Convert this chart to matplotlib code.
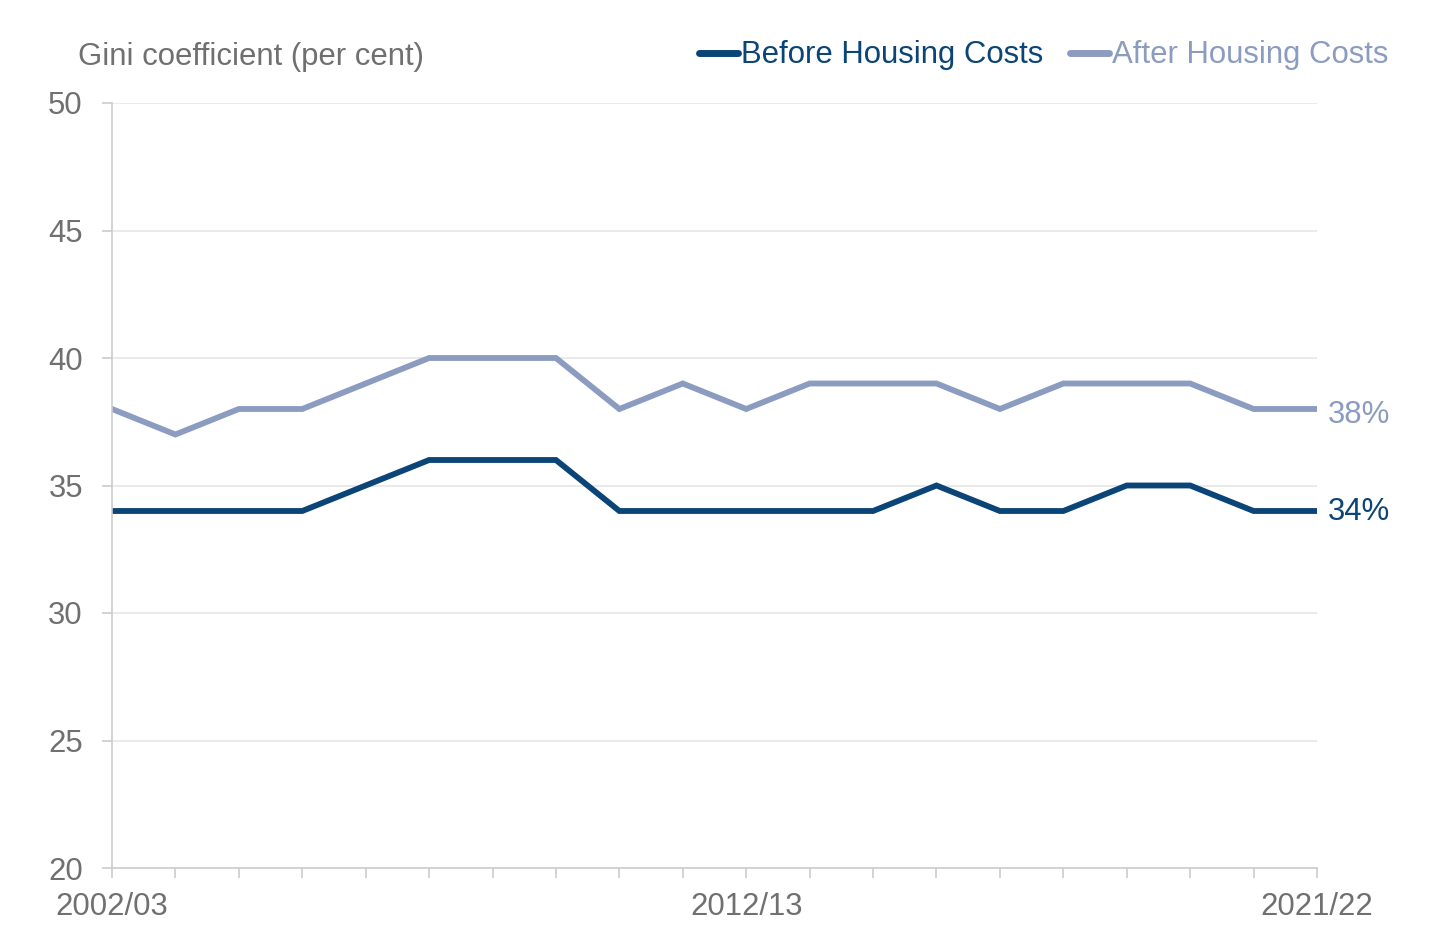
import matplotlib.pyplot as plt
import numpy as np

plt.rcParams["font.family"] = ["Liberation Sans", "DejaVu Sans"]

years = ["2002/03", "2003/04", "2004/05", "2005/06", "2006/07", "2007/08", "2008/09",
         "2009/10", "2010/11", "2011/12", "2012/13", "2013/14", "2014/15", "2015/16",
         "2016/17", "2017/18", "2018/19", "2019/20", "2020/21", "2021/22"]
bhc = [34, 34, 34, 34, 35, 36, 36, 36, 34, 34, 34, 34, 34, 35, 34, 34, 35, 35, 34, 34]
ahc = [38, 37, 38, 38, 39, 40, 40, 40, 38, 39, 38, 39, 39, 39, 38, 39, 39, 39, 38, 38]
shown_labels = ["2002/03", "2012/13", "2021/22"]

BHC_COL = "#0B4477"
AHC_COL = "#8C9CC0"
GREY = "#707070"
FS = 22.4

fig = plt.figure(figsize=(14.33, 9.51), dpi=100)
ax = fig.add_axes([112 / 1433, 1 - 868 / 951, (1317 - 112) / 1433, (868 - 103) / 951])

x = np.arange(len(years))
ax.plot(x, ahc, color=AHC_COL, lw=4.2, solid_joinstyle="miter", label="After Housing Costs")
ax.plot(x, bhc, color=BHC_COL, lw=4.2, solid_joinstyle="miter", label="Before Housing Costs")

ax.set_xlim(0, len(years) - 1)
ax.set_ylim(20, 50)
ax.set_yticks(range(20, 51, 5))
ax.set_xticks(x)
ax.set_xticklabels([y if y in shown_labels else "" for y in years])
ax.tick_params(axis="both", colors="#CCCCCC", labelcolor=GREY, labelsize=FS, length=7, width=1.2)
ax.tick_params(axis="x", pad=10)
ax.tick_params(axis="y", pad=14)
ax.grid(axis="y", color="#E6E6E6", lw=1.2)
ax.set_axisbelow(True)
for s in ["top", "right"]:
    ax.spines[s].set_visible(False)
for s in ["left", "bottom"]:
    ax.spines[s].set_color("#CCCCCC")
    ax.spines[s].set_linewidth(1.2)

# end-of-line value labels
ax.annotate(f"{ahc[-1]}%", (x[-1], ahc[-1]), xytext=(8, -10), textcoords="offset points",
            color=AHC_COL, fontsize=FS, va="baseline", annotation_clip=False)
ax.annotate(f"{bhc[-1]}%", (x[-1], bhc[-1]), xytext=(8, -6.5), textcoords="offset points",
            color=BHC_COL, fontsize=FS, va="baseline", annotation_clip=False)

fig.text(78 / 1433, 1 - 65 / 951, "Gini coefficient (per cent)", color=GREY, fontsize=FS, va="baseline")

# legend drawn by hand at the top right
fig.lines.append(plt.Line2D([699 / 1433, 738 / 1433], [1 - 53 / 951] * 2, color=BHC_COL, lw=5,
                            solid_capstyle="round", transform=fig.transFigure))
fig.text(741 / 1433, 1 - 63 / 951, "Before Housing Costs", color=BHC_COL, fontsize=FS, va="baseline")
fig.lines.append(plt.Line2D([1070 / 1433, 1109 / 1433], [1 - 53 / 951] * 2, color=AHC_COL, lw=5,
                            solid_capstyle="round", transform=fig.transFigure))
fig.text(1112 / 1433, 1 - 63 / 951, "After Housing Costs", color=AHC_COL, fontsize=FS, va="baseline")

fig.savefig("out.png", dpi=100)
